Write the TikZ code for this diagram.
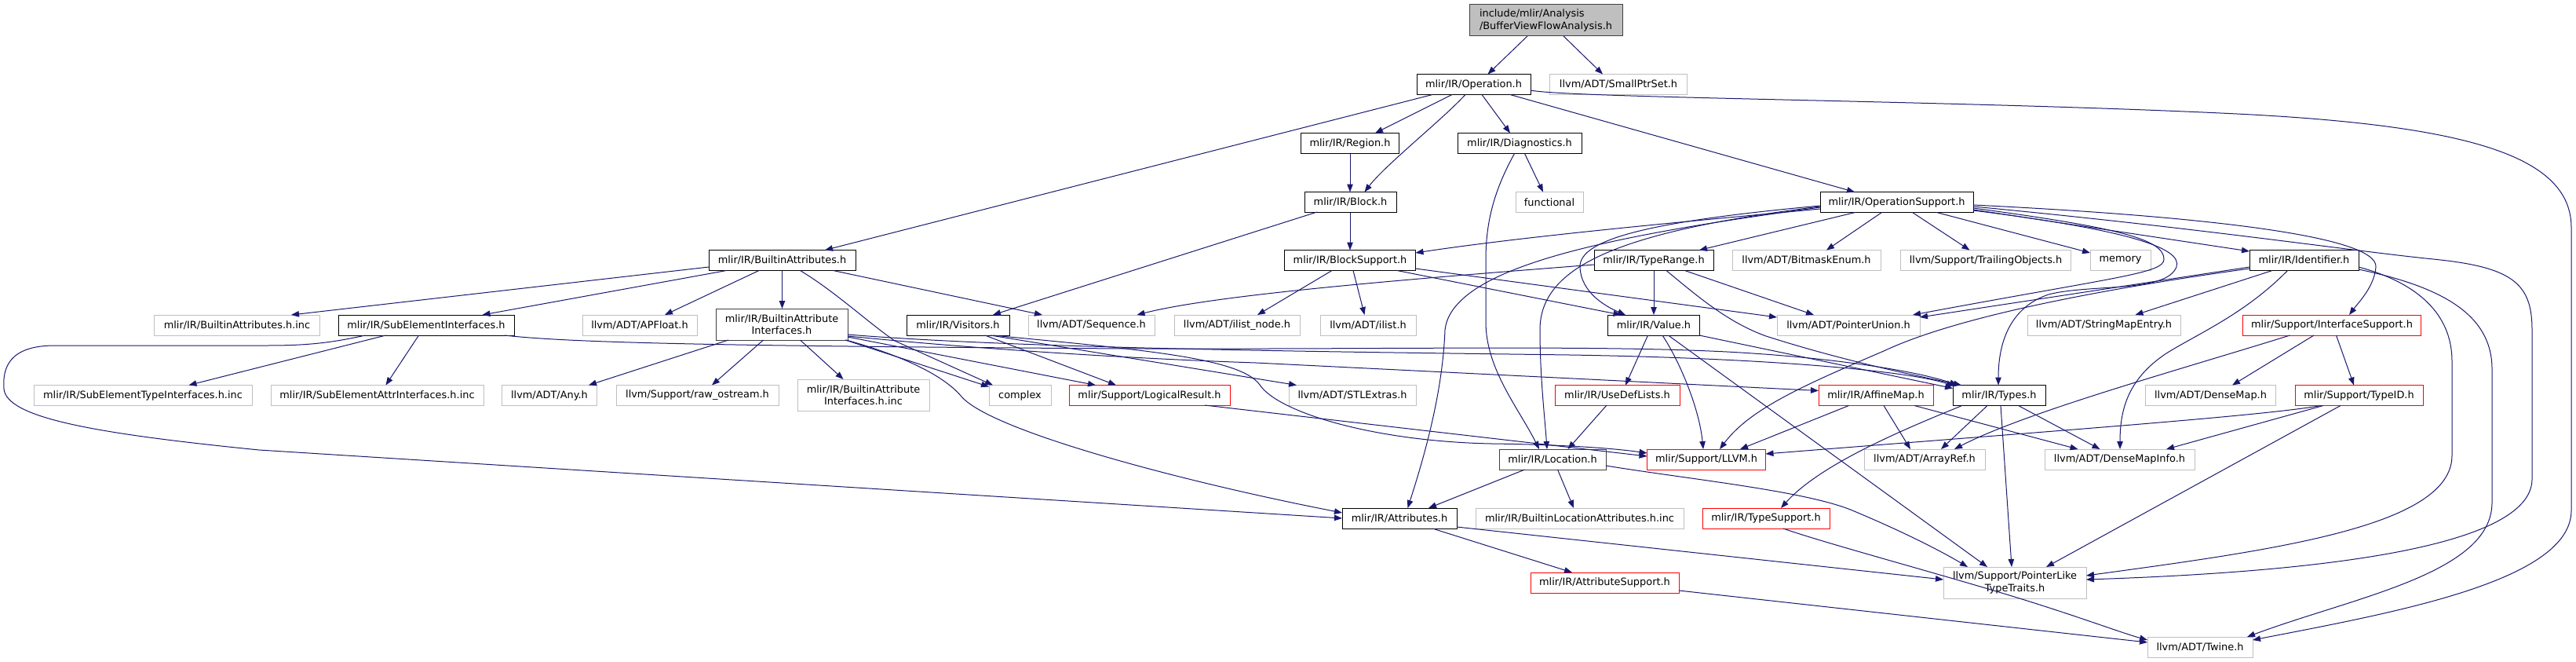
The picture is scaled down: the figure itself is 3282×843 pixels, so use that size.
\documentclass[tikz,border=0pt]{standalone}
\usepackage{fontspec}
\setmainfont{DejaVu Sans}
\usetikzlibrary{arrows.meta,calc}
\definecolor{edgec}{RGB}{25,25,112}
\definecolor{grey75}{RGB}{191,191,191}
\definecolor{grey25}{RGB}{64,64,64}
\tikzset{
  base/.style={rectangle, inner sep=0pt, minimum height=26, font=\fontsize{12.9}{15.5}\selectfont, fill=white, line width=1pt, text=black},
  bbox/.style={base, draw=black},
  gbox/.style={base, draw=grey75},
  rbox/.style={base, draw=red},
  dbox/.style={base, draw=grey25},
  rootbox/.style={base, draw=grey25, fill=grey75},
  dep/.style={draw=edgec, line width=1pt, -{Triangle[length=10pt,width=7.5pt]}}
}
\begin{document}
\begin{tikzpicture}[x=1pt,y=-1pt]
\fill[white] (0,0) rectangle (3282,843);
\useasboundingbox (0,0) rectangle (3282,843);
% nodes
\node[rootbox, minimum width=195, minimum height=40, align=left] (root) at (1969.5,26) {include/mlir/Analysis\\/BufferViewFlowAnalysis.h};
\node[bbox, minimum width=145] (op) at (1877.5,107.5) {mlir/IR/Operation.h};
\node[gbox, minimum width=175] (smallptr) at (2062,107.5) {llvm/ADT/SmallPtrSet.h};
\node[bbox, minimum width=125] (region) at (1720,182.5) {mlir/IR/Region.h};
\node[bbox, minimum width=158] (diag) at (1936,182.5) {mlir/IR/Diagnostics.h};
\node[bbox, minimum width=117] (block) at (1720.5,257.5) {mlir/IR/Block.h};
\node[gbox, minimum width=86] (functional) at (1974,257.5) {functional};
\node[bbox, minimum width=195] (opsupport) at (2416.5,257.5) {mlir/IR/OperationSupport.h};
\node[bbox, minimum width=187] (battr) at (996.5,331.5) {mlir/IR/BuiltinAttributes.h};
\node[bbox, minimum width=167] (blocksupport) at (1720,331.5) {mlir/IR/BlockSupport.h};
\node[bbox, minimum width=152] (typerange) at (2107,331.5) {mlir/IR/TypeRange.h};
\node[gbox, minimum width=189] (bitmask) at (2301.5,331.5) {llvm/ADT/BitmaskEnum.h};
\node[gbox, minimum width=217] (trailing) at (2530,331.5) {llvm/Support/TrailingObjects.h};
\node[gbox, minimum width=77] (memory) at (2701.5,331.5) {memory};
\node[bbox, minimum width=139] (ident) at (2935.5,331.5) {mlir/IR/Identifier.h};
\node[gbox, minimum width=211] (battrinc) at (302,414) {mlir/IR/BuiltinAttributes.h.inc};
\node[bbox, minimum width=224] (subelem) at (543,414) {mlir/IR/SubElementInterfaces.h};
\node[gbox, minimum width=146] (apfloat) at (815,414) {llvm/ADT/APFloat.h};
\node[dbox, minimum width=168, minimum height=40, align=center] (bai) at (996,413) {mlir/IR/BuiltinAttribute\\Interfaces.h};
\node[bbox, minimum width=131] (visitors) at (1220.5,414) {mlir/IR/Visitors.h};
\node[gbox, minimum width=161] (sequence) at (1390.5,414) {llvm/ADT/Sequence.h};
\node[gbox, minimum width=160] (ilistnode) at (1576,414) {llvm/ADT/ilist\_node.h};
\node[gbox, minimum width=122] (ilist) at (1743,414) {llvm/ADT/ilist.h};
\node[bbox, minimum width=117] (value) at (2107,414) {mlir/IR/Value.h};
\node[gbox, minimum width=182] (ptrunion) at (2355,414) {llvm/ADT/PointerUnion.h};
\node[gbox, minimum width=195] (stringmap) at (2680.5,414) {llvm/ADT/StringMapEntry.h};
\node[rbox, minimum width=227] (ifsupport) at (2971,414) {mlir/Support/InterfaceSupport.h};
\node[gbox, minimum width=278] (subtypeinc) at (182,503.5) {mlir/IR/SubElementTypeInterfaces.h.inc};
\node[gbox, minimum width=271] (subattrinc) at (480.5,503.5) {mlir/IR/SubElementAttrInterfaces.h.inc};
\node[gbox, minimum width=121] (any) at (700,503.5) {llvm/ADT/Any.h};
\node[gbox, minimum width=207] (rawostream) at (888.5,503.5) {llvm/Support/raw\_ostream.h};
\node[gbox, minimum width=168, minimum height=40, align=center] (baiinc) at (1100,503) {mlir/IR/BuiltinAttribute\\Interfaces.h.inc};
\node[gbox, minimum width=79] (complex) at (1299.5,503.5) {complex};
\node[rbox, minimum width=205] (logical) at (1464.5,503.5) {mlir/Support/LogicalResult.h};
\node[gbox, minimum width=162] (stlextras) at (1723,503.5) {llvm/ADT/STLExtras.h};
\node[rbox, minimum width=159] (usedef) at (2060.5,503.5) {mlir/IR/UseDefLists.h};
\node[rbox, minimum width=146] (affine) at (2390,503.5) {mlir/IR/AffineMap.h};
\node[bbox, minimum width=118] (types) at (2547,503.5) {mlir/IR/Types.h};
\node[gbox, minimum width=166] (densemap) at (2816.5,503.5) {llvm/ADT/DenseMap.h};
\node[rbox, minimum width=163] (typeid) at (3005.5,503.5) {mlir/Support/TypeID.h};
\node[dbox, minimum width=136] (location) at (1978,585) {mlir/IR/Location.h};
\node[rbox, minimum width=151] (llvmh) at (2174,585) {mlir/Support/LLVM.h};
\node[gbox, minimum width=154] (arrayref) at (2452,585) {llvm/ADT/ArrayRef.h};
\node[gbox, minimum width=191] (densemapinfo) at (2700.5,585) {llvm/ADT/DenseMapInfo.h};
\node[bbox, minimum width=146] (attrs) at (1783,660) {mlir/IR/Attributes.h};
\node[gbox, minimum width=265] (builtinlocinc) at (2012.5,660) {mlir/IR/BuiltinLocationAttributes.h.inc};
\node[rbox, minimum width=162] (typesupport) at (2250,660) {mlir/IR/TypeSupport.h};
\node[rbox, minimum width=189] (attrsupport) at (2044.5,742) {mlir/IR/AttributeSupport.h};
\node[gbox, minimum width=182, minimum height=40, align=center] (pltt) at (2567,742) {llvm/Support/PointerLike\\TypeTraits.h};
\node[gbox, minimum width=134] (twine) at (2803,824) {llvm/ADT/Twine.h};
% edges
\draw[dep] ($(root)+(-23.5,20)$) -- ($(op)+(18,-13)$);
\draw[dep] ($(root)+(22.5,20)$) -- ($(smallptr)+(-20,-13)$);
\draw[dep] ($(op)+(-27.5,13)$) -- ($(region)+(32,-13)$);
\draw[dep] ($(op)+(-10.5,13)$) .. controls (1838,152) and (1765,210) .. ($(block)+(18,-13)$);
\draw[dep] ($(op)+(10.5,13)$) -- ($(diag)+(-12,-13)$);
\draw[dep] ($(op)+(46.5,13)$) -- ($(opsupport)+(-53.5,-13)$);
\draw[dep] ($(op)+(-52.5,13)$) -- ($(battr)+(54.5,-13)$);
\draw[dep] ($(op)+(72.5,7.5)$) .. controls (2000,125) and (2500,128) .. (2850,145) .. controls (3150,160) and (3276,200) .. (3276,290) -- (3276,650) .. controls (3276,740) and (3050,780) .. ($(twine)+(67,-9)$);
\draw[dep] ($(region)+(0,13)$) -- ($(block)+(-0.5,-13)$);
\draw[dep] ($(block)+(-0.5,13)$) -- ($(blocksupport)+(0,-13)$);
\draw[dep] ($(block)+(-42.5,12.5)$) -- ($(visitors)+(44.5,-13)$);
\draw[dep] ($(diag)+(6.5,13)$) -- ($(functional)+(-8,-13)$);
\draw[dep] ($(diag)+(-6.5,13)$) .. controls (1905,240) and (1893,280) .. (1893,330) -- (1893,410) .. controls (1893,470) and (1935,520) .. ($(location)+(-17,-13)$);
% OperationSupport
\draw[dep] ($(opsupport)+(-97.5,8.5)$) .. controls (2150,282) and (1950,300) .. ($(blocksupport)+(83.5,-9.5)$);
\draw[dep] ($(opsupport)+(-97.5,6.5)$) .. controls (2050,300) and (1850,340) .. (1841,420) .. controls (1838,500) and (1815,580) .. ($(attrs)+(10.5,-13)$);
\draw[dep] ($(opsupport)+(-97.5,5.5)$) .. controls (2060,295) and (1962,340) .. (1962,420) .. controls (1962,480) and (1968,530) .. ($(location)+(-7,-13)$);
\draw[dep] ($(opsupport)+(-97.5,4.5)$) .. controls (2100,282) and (2012,305) .. (2013,340) .. controls (2014,372) and (2045,390) .. ($(value)+(-36,-13)$);
\draw[dep] ($(opsupport)+(-53,13)$) -- ($(typerange)+(58,-13)$);
\draw[dep] ($(opsupport)+(-19,13)$) -- ($(bitmask)+(25.5,-13)$);
\draw[dep] ($(opsupport)+(20,13)$) -- ($(trailing)+(-20.5,-13)$);
\draw[dep] ($(opsupport)+(51,13)$) -- ($(memory)+(-38.5,-9.5)$);
\draw[dep] ($(opsupport)+(97.5,9.5)$) -- ($(ident)+(-69.5,-11.5)$);
\draw[dep] ($(opsupport)+(97.5,3.5)$) .. controls (2800,275) and (3030,300) .. (3027,340) .. controls (3025,365) and (3005,385) .. ($(ifsupport)+(22,-13)$);
\draw[dep] ($(opsupport)+(97.5,5.5)$) .. controls (2800,290) and (3000,320) .. (3100,330) .. controls (3200,340) and (3226,360) .. (3226,420) -- (3226,610) .. controls (3226,680) and (3050,725) .. ($(pltt)+(91,-4)$);
\draw[dep] ($(opsupport)+(97.5,7.5)$) .. controls (2700,290) and (2757,305) .. (2757,330) .. controls (2757,348) and (2700,352) .. ($(ptrunion)+(82,-13)$);
\draw[dep] ($(opsupport)+(97.5,10.5)$) .. controls (2730,295) and (2790,320) .. (2770,345) .. controls (2750,372) and (2660,362) .. (2610,375) .. controls (2565,390) and (2546,430) .. ($(types)+(-1,-13)$);
% Identifier
\draw[dep] ($(ident)+(-69.5,8.5)$) -- ($(ptrunion)+(91,-10)$);
\draw[dep] ($(ident)+(-40.5,13)$) -- ($(stringmap)+(40,-13)$);
\draw[dep] ($(ident)+(-21,13)$) .. controls (2860,400) and (2800,425) .. (2760,450) .. controls (2712,482) and (2701,520) .. ($(densemapinfo)+(0.5,-13)$);
\draw[dep] ($(ident)+(-69.5,10.5)$) .. controls (2700,365) and (2500,400) .. (2400,447) .. controls (2300,490) and (2230,520) .. ($(llvmh)+(17,-13)$);
\draw[dep] ($(ident)+(69.5,8.5)$) .. controls (3080,360) and (3124,400) .. (3124,460) -- (3124,580) .. controls (3124,670) and (2900,700) .. ($(pltt)+(91,-9)$);
\draw[dep] ($(ident)+(69.5,11.5)$) .. controls (3110,365) and (3175,400) .. (3175,470) -- (3175,640) .. controls (3175,730) and (3000,760) .. ($(twine)+(60,-13)$);
% BuiltinAttributes
\draw[dep] ($(battr)+(-93.5,8.5)$) -- ($(battrinc)+(69,-13)$);
\draw[dep] ($(battr)+(-71,13)$) -- ($(subelem)+(71.5,-13)$);
\draw[dep] ($(battr)+(-29.5,13)$) -- ($(apfloat)+(32,-13)$);
\draw[dep] ($(battr)+(0,13)$) -- ($(bai)+(0.5,-20)$);
\draw[dep] ($(battr)+(23,13)$) .. controls (1065,372) and (1105,410) .. (1140,434) -- ($(complex)+(-34.5,-13)$);
\draw[dep] ($(battr)+(65,13)$) -- ($(sequence)+(-62.5,-13)$);
% SubElementInterfaces
\draw[dep] ($(subelem)+(-51.5,13)$) -- ($(subtypeinc)+(58.5,-13)$);
\draw[dep] ($(subelem)+(-9.5,13)$) -- ($(subattrinc)+(11,-13)$);
\draw[dep] ($(subelem)+(-77.5,13)$) .. controls (420,437) and (390,440) .. (340,440) -- (70,440) .. controls (12,440) and (3,468) .. (5,495) .. controls (8,532) and (120,552) .. (330,573) -- ($(attrs)+(-73,0)$);
\draw[dep] ($(subelem)+(100,13)$) .. controls (720,436) and (900,440) .. (1300,443) .. controls (1700,447) and (2000,438) .. (2200,448) .. controls (2350,456) and (2450,475) .. ($(types)+(-53,-13)$);
% BuiltinAttributeInterfaces
\draw[dep] ($(bai)+(-68,20)$) -- ($(any)+(50,-13)$);
\draw[dep] ($(bai)+(-23.5,20)$) -- ($(rawostream)+(18.5,-13)$);
\draw[dep] ($(bai)+(23.5,20)$) -- ($(baiinc)+(-25.5,-20)$);
\draw[dep] ($(bai)+(81,20)$) -- ($(complex)+(-39.5,-11)$);
\draw[dep] ($(bai)+(84,16)$) -- ($(logical)+(-68.5,-13)$);
\draw[dep] ($(bai)+(82,20)$) .. controls (1140,450) and (1200,475) .. (1225,505) .. controls (1262,548) and (1500,612) .. ($(attrs)+(-73,-7)$);
\draw[dep] ($(bai)+(84,13)$) .. controls (1300,444) and (1700,448) .. (2000,452) .. controls (2250,456) and (2430,472) .. ($(types)+(-57,-12)$);
\draw[dep] ($(bai)+(84,15)$) .. controls (1250,445) and (1450,457) .. (1600,462) -- ($(affine)+(-73,-6)$);
% Visitors, LogicalResult
\draw[dep] ($(visitors)+(34.5,13)$) -- ($(logical)+(-42.5,-13)$);
\draw[dep] ($(visitors)+(41.5,13)$) -- ($(stlextras)+(-71,-13)$);
\draw[dep] ($(visitors)+(44.5,13)$) .. controls (1450,445) and (1580,455) .. (1605,490) .. controls (1628,525) and (1750,562) .. (1900,565) .. controls (1980,566) and (2050,570) .. ($(llvmh)+(-75.5,-8)$);
\draw[dep] ($(logical)+(70.5,12.5)$) -- ($(llvmh)+(-75.5,-4)$);
% BlockSupport
\draw[dep] ($(blocksupport)+(-23,13)$) -- ($(ilistnode)+(26,-13)$);
\draw[dep] ($(blocksupport)+(4,13)$) -- ($(ilist)+(-4.5,-13)$);
\draw[dep] ($(blocksupport)+(60,13)$) -- ($(value)+(-41.5,-13)$);
\draw[dep] ($(blocksupport)+(83.5,10.5)$) -- ($(ptrunion)+(-91,-10)$);
% TypeRange
\draw[dep] ($(typerange)+(-76,5.5)$) .. controls (1800,355) and (1550,375) .. ($(sequence)+(58,-13)$);
\draw[dep] ($(typerange)+(0,13)$) -- ($(value)+(0,-13)$);
\draw[dep] ($(typerange)+(39.5,13)$) -- ($(ptrunion)+(-44,-13)$);
\draw[dep] ($(typerange)+(16,13)$) .. controls (2160,375) and (2200,410) .. (2250,428) .. controls (2350,460) and (2440,478) .. ($(types)+(-48,-13)$);
% Value
\draw[dep] ($(value)+(-7.5,13)$) -- ($(usedef)+(10.5,-13)$);
\draw[dep] ($(value)+(11,13)$) .. controls (2140,460) and (2165,520) .. ($(llvmh)+(-4,-13)$);
\draw[dep] ($(value)+(58,13)$) -- ($(types)+(-59,-9)$);
\draw[dep] ($(value)+(18.5,13)$) -- ($(pltt)+(-35,-20)$);
% UseDefLists, Location, Attributes
\draw[dep] ($(usedef)+(-13.5,12.5)$) -- ($(location)+(19.5,-13)$);
\draw[dep] ($(location)+(-35.5,13)$) -- ($(attrs)+(37,-13)$);
\draw[dep] ($(location)+(6.5,13)$) -- ($(builtinlocinc)+(-7.5,-13)$);
\draw[dep] ($(location)+(68,8)$) .. controls (2150,610) and (2300,625) .. (2360,650) .. controls (2420,675) and (2470,700) .. ($(pltt)+(-60,-20)$);
\draw[dep] ($(attrs)+(42,13)$) -- ($(attrsupport)+(-41.5,-13)$);
\draw[dep] ($(attrs)+(73,11)$) -- ($(pltt)+(-91,-4)$);
\draw[dep] ($(attrsupport)+(94.5,10)$) -- ($(twine)+(-67,-6)$);
\draw[dep] ($(typesupport)+(22,13)$) .. controls (2320,690) and (2450,725) .. (2550,755) .. controls (2640,782) and (2700,805) .. ($(twine)+(-67,-9)$);
% Types
\draw[dep] ($(types)+(-46,12.5)$) .. controls (2430,545) and (2320,590) .. ($(typesupport)+(19,-13)$);
\draw[dep] ($(types)+(-15,13)$) -- ($(arrayref)+(21,-13)$);
\draw[dep] ($(types)+(24.5,13)$) -- ($(densemapinfo)+(-25,-13)$);
\draw[dep] ($(types)+(2,13)$) -- ($(pltt)+(-4,-20)$);
% AffineMap
\draw[dep] ($(affine)+(-34.5,13)$) -- ($(llvmh)+(43,-13)$);
\draw[dep] ($(affine)+(10,13)$) -- ($(arrayref)+(-18,-13)$);
\draw[dep] ($(affine)+(49,13)$) -- ($(densemapinfo)+(-53,-13)$);
% InterfaceSupport, TypeID
\draw[dep] ($(ifsupport)+(-53.5,13)$) .. controls (2780,470) and (2580,525) .. ($(arrayref)+(38,-13)$);
\draw[dep] ($(ifsupport)+(-23,13)$) -- ($(densemap)+(27.5,-13)$);
\draw[dep] ($(ifsupport)+(5.5,13)$) -- ($(typeid)+(-6.5,-13)$);
\draw[dep] ($(typeid)+(-48.5,13)$) .. controls (2880,530) and (2600,550) .. ($(llvmh)+(75.5,-7)$);
\draw[dep] ($(typeid)+(-45.5,13)$) -- ($(densemapinfo)+(59.5,-13)$);
\draw[dep] ($(typeid)+(-23.5,13)$) -- ($(pltt)+(40,-20)$);
\end{tikzpicture}
\end{document}
